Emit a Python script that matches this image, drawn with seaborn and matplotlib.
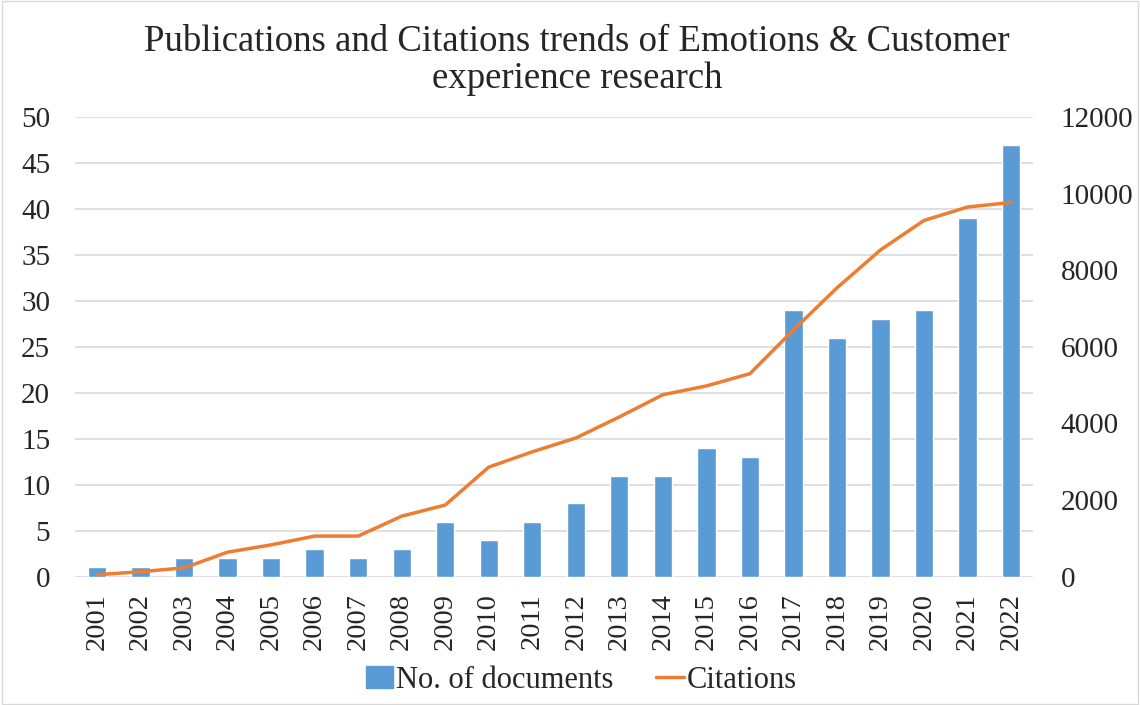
import numpy as np
import pandas as pd
import seaborn as sns
import matplotlib.pyplot as plt
from matplotlib.patches import Patch
from matplotlib.lines import Line2D

years = [str(y) for y in range(2001, 2023)]
documents = [1, 1, 2, 2, 2, 3, 2, 3, 6, 4, 6, 8, 11, 11, 14, 13, 29, 26, 28, 29, 39, 47]
citations = [50, 130, 230, 640, 830, 1060, 1060, 1580, 1870, 2860, 3260, 3620,
             4170, 4750, 4980, 5300, 6440, 7540, 8530, 9300, 9650, 9770]

sns.set_style("white")
plt.rcParams['font.family'] = ['Liberation Serif', 'DejaVu Serif']

bar_color = '#5B9BD5'
line_color = '#ED7D31'

df = pd.DataFrame({'year': years, 'documents': documents, 'citations': citations})

fig = plt.figure(figsize=(11.4, 7.05), dpi=100)
ax = fig.add_axes([0.066, 0.182, 0.84, 0.652])

sns.barplot(data=df, x='year', y='documents', color=bar_color, width=0.42,
            saturation=1, ax=ax, zorder=2)
ax.set_ylim(0, 50)
ax.set_yticks(range(0, 51, 5))
ax.set_xlim(-0.5, len(years) - 0.5)
ax.grid(axis='y', color='#d9d9d9', linewidth=1.2, zorder=0)
ax.set_axisbelow(True)
ax.set_xlabel('')
ax.set_ylabel('')
ax.tick_params(axis='y', labelsize=21, length=0, pad=18)
ax.tick_params(axis='x', labelsize=20.5, length=0, rotation=90, pad=12)
for s in ax.spines.values():
    s.set_visible(False)

ax2 = ax.twinx()
sns.lineplot(x=np.arange(len(years)), y=df['citations'], color=line_color,
             linewidth=2.5, ax=ax2)
ax2.set_ylim(0, 12000)
ax2.set_yticks(range(0, 12001, 2000))
ax2.set_ylabel('')
ax2.tick_params(axis='y', labelsize=21, length=0, pad=20)
for s in ax2.spines.values():
    s.set_visible(False)

fig.text(0.506, 0.915, 'Publications and Citations trends of Emotions & Customer\nexperience research',
         fontsize=26.5, ha='center', va='center', linespacing=1.1)

handles = [Patch(color=bar_color), Line2D([0], [0], color=line_color, linewidth=2.5)]
fig.legend(handles, ['No. of documents', 'Citations'], loc='center',
           bbox_to_anchor=(0.51, 0.035), ncol=2, frameon=False, fontsize=22,
           handlelength=0.9, handletextpad=0.1, columnspacing=1.4)

fig.patches.append(plt.Rectangle((0.002, 0.002), 0.996, 0.996, transform=fig.transFigure,
                                 fill=False, edgecolor='#d9d9d9', linewidth=1))

fig.savefig('out.png', dpi=100)
